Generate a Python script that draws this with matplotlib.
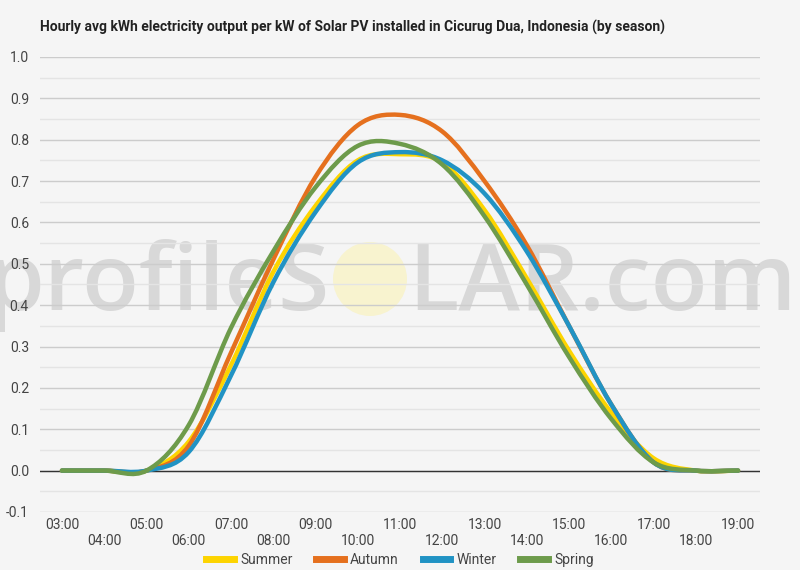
import numpy as np
import matplotlib
matplotlib.use('Agg')
from matplotlib import pyplot as plt
from matplotlib.path import Path
from matplotlib.patches import PathPatch, Circle
from matplotlib.lines import Line2D

hours = [3, 4, 5, 6, 7, 8, 9, 10, 11, 12, 13, 14, 15, 16, 17, 18, 19]
hour_labels = ['%02d:00' % h for h in hours]
series_names = ['Summer', 'Autumn', 'Winter', 'Spring']
summer = [0, 0, 0, 0.07, 0.255, 0.48, 0.64, 0.75, 0.765, 0.745, 0.63, 0.465, 0.29, 0.14, 0.03, 0, 0]
autumn = [0, 0, 0, 0.06, 0.285, 0.51, 0.71, 0.835, 0.86, 0.82, 0.70, 0.545, 0.35, 0.16, 0.02, 0, 0]
winter = [0, 0, 0, 0.045, 0.23, 0.455, 0.625, 0.745, 0.77, 0.75, 0.67, 0.53, 0.35, 0.16, 0.02, 0, 0]
spring = [0, 0, 0, 0.11, 0.345, 0.53, 0.685, 0.785, 0.79, 0.74, 0.615, 0.45, 0.275, 0.125, 0.02, 0, 0]
colors = ['#fdd400', '#e5701e', '#2193c4', '#6d9b4b']

title = 'Hourly avg kWh electricity output per kW of Solar PV installed in Cicurug Dua, Indonesia (by season)'


def smooth_path(x, y):
    # catmull-rom style bezier through the hourly points
    x = np.asarray(x, float)
    y = np.asarray(y, float)
    n = len(x)
    m = np.zeros(n)
    m[1:-1] = (y[2:] - y[:-2]) / 2
    m[0] = y[1] - y[0]
    m[-1] = y[-1] - y[-2]
    verts = [(x[0], y[0])]
    codes = [Path.MOVETO]
    for i in range(n - 1):
        h = x[i + 1] - x[i]
        verts += [(x[i] + h / 3, y[i] + m[i] / 3),
                  (x[i + 1] - h / 3, y[i + 1] - m[i + 1] / 3),
                  (x[i + 1], y[i + 1])]
        codes += [Path.CURVE4] * 3
    return Path(verts, codes)


plt.rcParams['font.family'] = ['Roboto', 'DejaVu Sans']
bg = '#f5f5f5'
fig = plt.figure(figsize=(8, 5.7), dpi=100, facecolor=bg)
ax = fig.add_axes([0.05, 0.1018, 0.9, 0.7982])
ax.set_facecolor(bg)

# watermark
fig.text(0.4125, 0.4561, 'profileS', ha='right', va='baseline', fontsize=67,
         family='Open Sans', weight='semibold', color='#d8d8d8', zorder=-1)
fig.text(0.51, 0.4561, 'LAR.com', ha='left', va='baseline', fontsize=67,
         family='Open Sans', weight='semibold', color='#d8d8d8', zorder=-1)
fig.patches.append(Circle((370, 291), 37, transform=None, facecolor='#f8f3cf',
                          edgecolor='none', zorder=-1))

ax.set_xlim(2.48, 19.52)
ax.set_ylim(-0.1, 1.0)
ax.set_yticks(np.arange(-0.1, 1.01, 0.1))
ax.set_yticklabels(['%.1f' % v for v in np.arange(-0.1, 1.01, 0.1)])
ax.set_yticks(np.arange(-0.05, 1.0, 0.1), minor=True)
ax.grid(axis='y', which='major', color='#cccccc', lw=1, zorder=0.5)
ax.grid(axis='y', which='minor', color='#e4e4e4', lw=1, zorder=0.5)
ax.axhline(0, color='#333333', lw=1, zorder=2)
ax.set_xticks(hours)
ax.set_xticklabels([lab if i % 2 == 0 else '\n' + lab for i, lab in enumerate(hour_labels)])
ax.tick_params(axis='both', which='both', length=0, labelsize=10, labelcolor='#444444')
ax.tick_params(axis='x', pad=4)
ax.tick_params(axis='y', pad=8)
for s in ax.spines.values():
    s.set_visible(False)
ax.patch.set_alpha(0)

for vals, c in zip([summer, autumn, winter, spring], colors):
    ax.add_patch(PathPatch(smooth_path(hours, vals), facecolor='none', edgecolor=c,
                           lw=3.2, capstyle='round', zorder=3))

handles = [Line2D([], [], color=c, lw=5) for c in colors]
fig.legend(handles, series_names, loc='lower center', ncol=4, frameon=False,
           bbox_to_anchor=(0.5, -0.016), fontsize=10, handlelength=2.0,
           columnspacing=1.7, handletextpad=0.45, labelcolor='#444444')

fig.text(0.05, 0.951, title, ha='left', va='center', fontsize=10,
         weight='bold', color='#222222')

fig.savefig('out.png', facecolor=bg)
